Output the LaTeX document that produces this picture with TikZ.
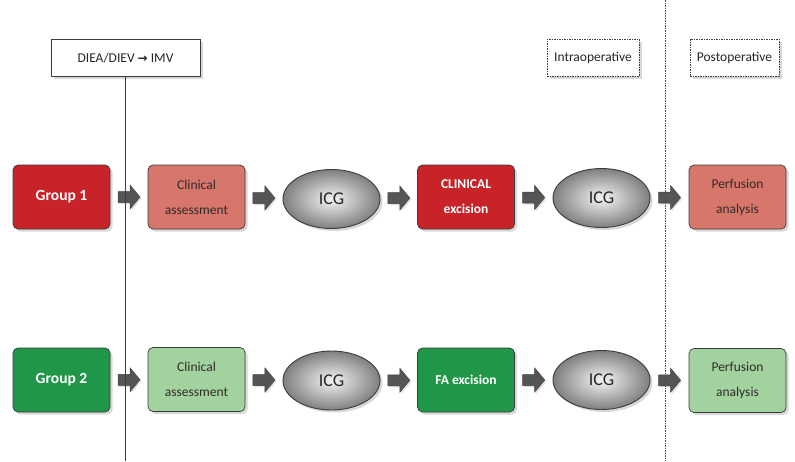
\documentclass[tikz,border=0pt]{standalone}
\usepackage{fontspec}
\setmainfont{Carlito}
\newfontfamily\symf{DejaVu Sans}
\usetikzlibrary{shadows,calc,shapes.geometric}
\definecolor{dred}{RGB}{200,35,40}
\definecolor{lred}{RGB}{215,118,106}
\definecolor{dgreen}{RGB}{32,150,72}
\definecolor{lgreen}{RGB}{162,210,158}
\definecolor{bord}{RGB}{60,60,60}
\definecolor{txtd}{RGB}{50,42,42}
\definecolor{arrfill}{RGB}{85,85,85}
\begin{document}
\begin{tikzpicture}[x=1pt,y=-1pt,
  shad/.style={drop shadow={opacity=0.3,shadow xshift=2.5pt,shadow yshift=-2.5pt}},
  box/.style={draw=bord,line width=0.7pt,rounded corners=5pt,minimum width=97pt,minimum height=64pt,
    inner sep=0pt,align=center,shad,font=\fontsize{13.5}{25}\selectfont},
  darkbox/.style={box,text=white,font=\fontsize{13.5}{25}\selectfont\bfseries},
  lightbox/.style={box,text=txtd},
  icg/.style={ellipse,draw=bord,line width=0.9pt,minimum width=97pt,minimum height=59pt,inner sep=0pt,
    inner color=white!92!gray,outer color=black!50,shad,font=\fontsize{18}{20}\selectfont,text=black!85},
  label/.style={draw=bord,line width=0.6pt,minimum height=37pt,inner sep=0pt,fill=white,shad,
    font=\fontsize{13.5}{15}\selectfont,text=black!85},
  dlabel/.style={label,dash pattern=on 1.5pt off 1pt},
  blockarrow/.pic={\draw[fill=arrfill,draw=black!75,line width=0.5pt,
      drop shadow={opacity=0.25,shadow xshift=1.5pt,shadow yshift=-1.5pt}]
      (-11,-5.5) -- (1,-5.5) -- (1,-12) -- (11,0) -- (1,12) -- (1,5.5) -- (-11,5.5) -- cycle;}
]
\useasboundingbox[fill=white] (0,0) rectangle (795,461);

% header labels
\node[label,minimum width=149pt] (diea) at (125.5,58) {DIEA/DIEV {\symf\bfseries\fontsize{12}{14}\selectfont →} IMV};
\node[dlabel,minimum width=92pt] (intra) at (593,57.5) {Intraoperative};
\node[dlabel,minimum width=89pt] (post) at (734.5,57.5) {Postoperative};

% row 1
\node[darkbox,fill=dred] (g1) at (61.5,197) {\fontsize{15.5}{17}\selectfont Group 1};
\node[lightbox,fill=lred] (ca1) at (196.5,197) {Clinical\\assessment};
\node[icg] (icga1) at (331.5,199) {ICG};
\node[darkbox,fill=dred] (ex1) at (466,197) {CLINICAL\\excision};
\node[icg] (icgb1) at (601.5,198) {ICG};
\node[lightbox,fill=lred] (pa1) at (737.5,197) {Perfusion\\analysis};

% row 2
\node[darkbox,fill=dgreen] (g2) at (61.5,380) {\fontsize{15.5}{17}\selectfont Group 2};
\node[lightbox,fill=lgreen] (ca2) at (196.5,379.5) {Clinical\\assessment};
\node[icg] (icga2) at (331.5,380.5) {ICG};
\node[darkbox,fill=dgreen] (ex2) at (466,380) {FA excision};
\node[icg] (icgb2) at (601.5,380) {ICG};
\node[lightbox,fill=lgreen] (pa2) at (737.5,380.5) {Perfusion\\analysis};

% block arrows
\foreach \a/\b in {g1/ca1,ca1/icga1,icga1/ex1,ex1/icgb1,icgb1/pa1,g2/ca2,ca2/icga2,icga2/ex2,ex2/icgb2,icgb2/pa2}{
  \pic at ($(\a.east)!0.5!(\b.west)$) {blockarrow};
}

% vertical lines
\coordinate (vbot) at (125.5,461);
\draw[bord,line width=0.8pt] (diea.south) -- (vbot);
\coordinate (dtop) at (665,0);
\coordinate (dbot) at (665,461);
\draw[black!70,line width=0.8pt,dash pattern=on 1.5pt off 1pt] (dtop) -- (dbot);
\end{tikzpicture}
\end{document}
